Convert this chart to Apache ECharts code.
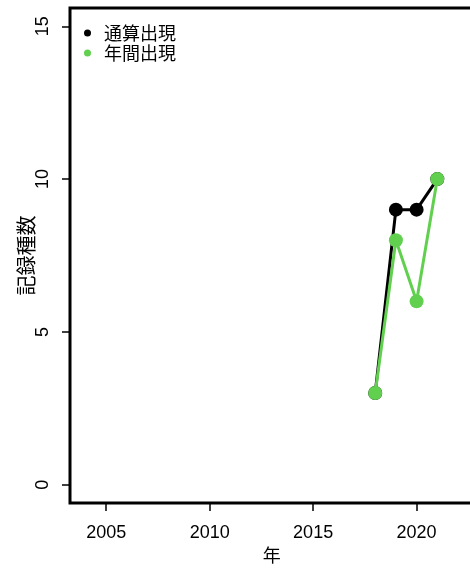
<!DOCTYPE html>
<html><head><meta charset="utf-8">
<script src="https://cdn.jsdelivr.net/npm/echarts@6/dist/echarts.min.js"></script>
<style>html,body{margin:0;padding:0;background:#fff}#c{width:470px;height:571px}</style>
</head><body><div id="c"></div>
<script>
var years = [2018, 2019, 2020, 2021];
var cumulative = [3, 9, 9, 10];
var annual = [3, 8, 6, 10];
var xTicks = [2005, 2010, 2015, 2020];
var yTicks = [0, 5, 10, 15];
var seriesNames = ['通算出現', '年間出現'];

var font = 'Liberation Sans, Arial, sans-serif';
var cjk = 'Noto Sans CJK JP, sans-serif';
var chart = echarts.init(document.getElementById('c'));
chart.setOption({
  animation: false,
  grid: {left: 70, top: 8, width: 403.5, bottom: 68, outerBoundsMode: 'none', containLabel: false,
         show: true, borderColor: '#000', borderWidth: 3, backgroundColor: 'transparent'},
  legend: {
    orient: 'vertical', left: 79, top: 19, itemGap: 2, icon: 'circle', itemWidth: 7, itemHeight: 7,
    textStyle: {fontFamily: cjk, fontSize: 18, color: '#000', padding: [0, 0, 0, 8]},
    data: seriesNames
  },
  xAxis: {
    type: 'value', min: 2003.25, max: 2022.75,
    name: '年', nameLocation: 'middle', nameGap: 43, nameMoveOverlap: false,
    nameTextStyle: {fontFamily: cjk, fontSize: 18, color: '#000'},
    axisLine: {show: false, onZero: false}, splitLine: {show: false},
    axisTick: {show: true, length: 8, customValues: xTicks, lineStyle: {color: '#000', width: 1.5}},
    axisLabel: {customValues: xTicks, margin: 21, fontFamily: font, fontSize: 18, color: '#000',
                formatter: function(v){ return String(v); }}
  },
  yAxis: {
    type: 'value', min: -0.6, max: 15.6,
    name: '記録種数', nameLocation: 'middle', nameGap: 34, nameMoveOverlap: false,
    nameTextStyle: {fontFamily: cjk, fontSize: 20, color: '#000'},
    axisLine: {show: false, onZero: false}, splitLine: {show: false},
    axisTick: {show: true, length: 8, customValues: yTicks, lineStyle: {color: '#000', width: 1.5}},
    axisLabel: {customValues: yTicks, rotate: 90, margin: 18, fontFamily: font, fontSize: 18, color: '#000'}
  },
  series: [
    {name: seriesNames[0], type: 'line', data: years.map(function(y,i){return [y, cumulative[i]];}),
     symbol: 'circle', symbolSize: 14, itemStyle: {color: '#000'}, lineStyle: {color: '#000', width: 3}, z: 2},
    {name: seriesNames[1], type: 'line', data: years.map(function(y,i){return [y, annual[i]];}),
     symbol: 'circle', symbolSize: 14, itemStyle: {color: '#61D04F'}, lineStyle: {color: '#61D04F', width: 3}, z: 3}
  ]
});
</script></body></html>
